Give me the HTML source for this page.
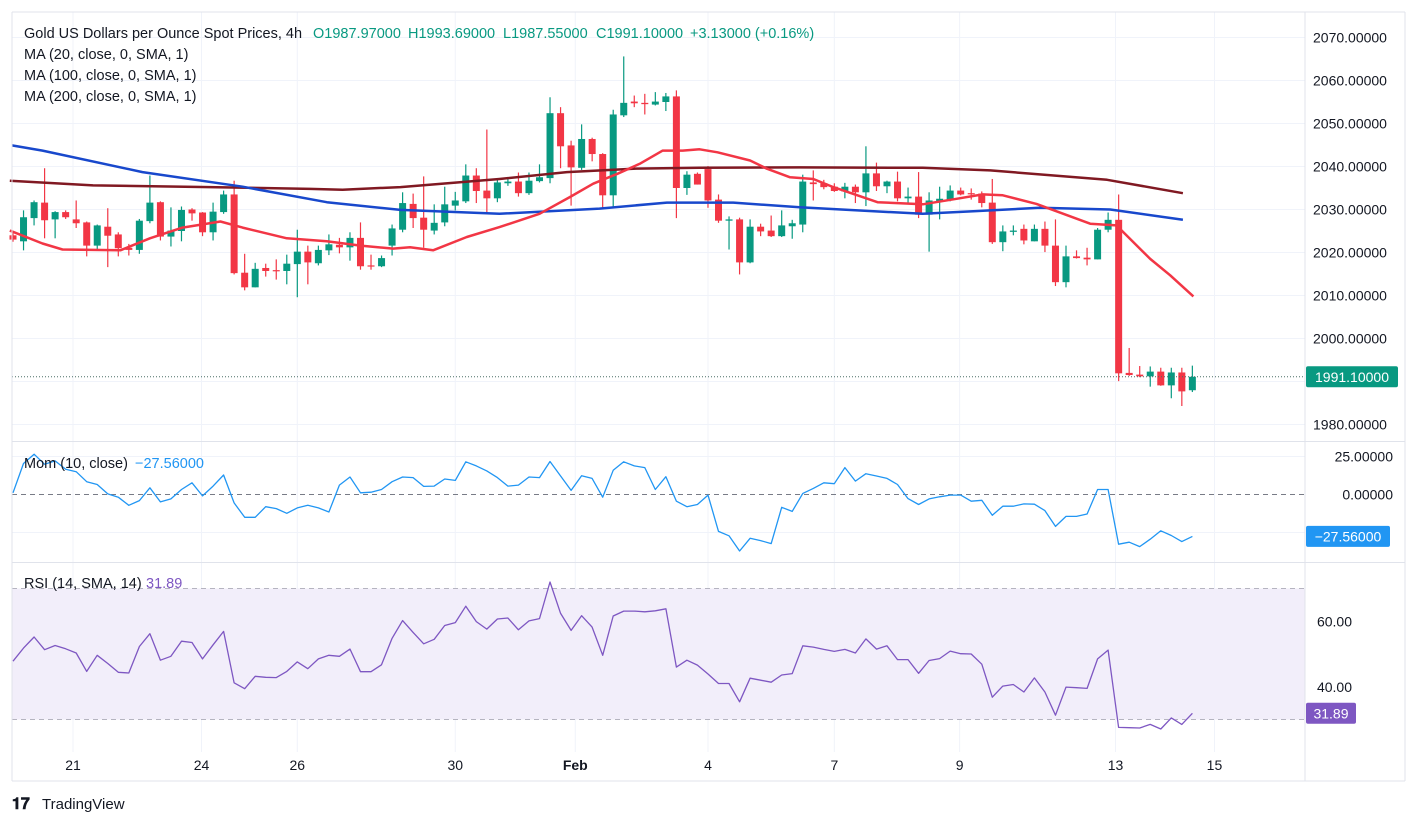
<!DOCTYPE html>
<html><head><meta charset="utf-8"><style>
body{margin:0;background:#fff;font-family:"Liberation Sans",sans-serif;}
svg text{font-family:"Liberation Sans",sans-serif;}
</style></head><body>
<svg id="chart" width="1417" height="825" xmlns="http://www.w3.org/2000/svg">
<rect x="0" y="0" width="1417" height="825" fill="#fff"/>
<g id="grid"></g>
<g id="price-pane"></g>
<g id="mom-pane"></g>
<g id="rsi-pane"></g>
<g id="axes"></g>
<g font-size="14.5">
<text y="38" fill="#131722"><tspan x="24">Gold US Dollars per Ounce Spot Prices, 4h</tspan><tspan x="313" fill="#089981">O1987.97000</tspan><tspan x="408" fill="#089981">H1993.69000</tspan><tspan x="503" fill="#089981">L1987.55000</tspan><tspan x="596" fill="#089981">C1991.10000</tspan><tspan x="690" fill="#089981">+3.13000 (+0.16%)</tspan></text>
<text x="24" y="59" fill="#131722">MA (20, close, 0, SMA, 1)</text>
<text x="24" y="80" fill="#131722">MA (100, close, 0, SMA, 1)</text>
<text x="24" y="101" fill="#131722">MA (200, close, 0, SMA, 1)</text>
<text y="468" fill="#131722"><tspan x="24">Mom (10, close)</tspan><tspan x="135" fill="#2196f3">−27.56000</tspan></text>
<text y="588" fill="#131722"><tspan x="24">RSI (14, SMA, 14)</tspan><tspan x="146" fill="#7e57c2">31.89</tspan></text>
</g>
<g>
<text x="12" y="809" font-size="16" font-weight="bold" fill="#131722">𝟏𝟕</text>
<text x="42" y="809" font-size="15" fill="#131722">TradingView</text>
</g>
</svg>
<script>
const opens=[2024,2022.6,2028,2031.6,2027.7,2029.4,2027.7,2027,2021.6,2026,2024.2,2021.1,2020.6,2027.3,2031.7,2023.7,2025,2030,2029.3,2024.7,2029.4,2033.5,2015.3,2011.9,2016.4,2015.9,2015.7,2017.3,2020.2,2017.5,2020.5,2021.8,2021.2,2023.4,2017,2016.8,2021.6,2025.3,2031.3,2028.1,2025.1,2027,2030.9,2031.9,2037.9,2034.4,2032.6,2036.1,2036.5,2033.8,2036.6,2037.3,2052.4,2044.9,2039.7,2046.4,2042.9,2033.3,2051.9,2055.1,2054.8,2054.4,2055,2056.3,2035,2038.3,2039.4,2032.3,2027.4,2027.7,2017.7,2026,2025.1,2023.8,2026.1,2026.5,2036.3,2036.1,2035.3,2034.2,2035.3,2034,2038.4,2035.4,2036.5,2032.6,2033,2028.8,2031.9,2032.3,2034.4,2033.8,2033.7,2031.6,2022.4,2024.8,2025.5,2022.6,2025.5,2021.6,2013.1,2019.1,2018.8,2018.4,2025.3,2027.6,1992,1991.6,1991.2,1992.3,1989.1,1992.1,1987.97];
const highs=[2024.5,2029.8,2032.1,2039.6,2029.6,2029.8,2032.1,2027.2,2026.5,2030.3,2024.7,2022,2027.8,2037.9,2031.9,2030.5,2030.7,2030.3,2029.4,2031.6,2034.4,2036.7,2019.7,2017.6,2017.4,2018.4,2019.5,2025.3,2021.6,2021.6,2024.2,2023.4,2024.7,2027,2019.5,2019.3,2026.5,2034,2033.7,2037.7,2031.2,2035.3,2034.1,2040.5,2039.6,2048.6,2037.1,2037.4,2038.6,2038.6,2040.5,2056.1,2053.8,2046,2049.8,2046.7,2043.1,2053.2,2065.6,2056.5,2056.9,2057.3,2057.1,2057.7,2038.9,2038.6,2040.1,2033.5,2028.4,2028.1,2027.7,2026.7,2028.6,2029.8,2027.6,2038.1,2039.1,2036.9,2036.1,2036.2,2035.8,2044.7,2040.9,2036.7,2038.8,2035.1,2038.7,2034,2035.3,2035.6,2035.1,2034.9,2034.2,2037.1,2026.3,2026.3,2026.5,2026.5,2027.2,2027.7,2021.6,2020.5,2021.1,2025.7,2029.3,2033.5,1997.8,1993.6,1993.5,1993.2,1993.2,1993.2,1993.69];
const lows=[2022.5,2020.5,2026.3,2023.3,2023.3,2027.8,2025.7,2019.1,2020.6,2016.6,2019.1,2019.3,2019.7,2026.8,2022.8,2021.4,2022.6,2027.4,2023.8,2022.8,2029,2014.9,2011.2,2011.9,2014.4,2013.7,2012.6,2009.6,2012.6,2017,2019.4,2019.8,2018.1,2016,2016,2016.6,2019.3,2024.7,2025.7,2021.1,2024.2,2026.1,2029.8,2031.5,2031.5,2029.1,2031.7,2035.5,2033,2033.4,2036.3,2036.1,2039.6,2030.9,2039.2,2041.2,2030,2030.4,2051.5,2053.8,2052.1,2054.2,2052.9,2028,2033.4,2035.8,2030.4,2026.9,2020.7,2014.9,2017.5,2023.8,2023.6,2023.6,2023.2,2024.7,2032.1,2034.7,2034.1,2032.6,2031.5,2030.8,2034.3,2033.8,2031.9,2031.3,2028,2020.2,2027.7,2031.9,2033.3,2032.3,2030.5,2022,2020.3,2024,2021.9,2022.6,2020.1,2012.2,2011.9,2018.6,2017,2018.4,2024.7,1990.1,1991.3,1991,1988.8,1989,1986.1,1984.3,1987.55];
const closes=[2023,2028.2,2031.7,2027.5,2029.4,2028.2,2026.8,2021.6,2026.3,2023.9,2021,2020.6,2027.4,2031.6,2023.7,2025.1,2029.9,2029.1,2024.7,2029.5,2033.5,2015.2,2011.9,2016.2,2015.7,2015.7,2017.4,2020.2,2017.7,2020.6,2021.9,2021.2,2023.4,2016.8,2016.8,2018.7,2025.6,2031.5,2028,2025.3,2026.9,2031.2,2032.1,2037.9,2034.3,2032.6,2036.3,2036.5,2033.8,2036.7,2037.5,2052.4,2044.7,2039.8,2046.4,2042.9,2033.3,2052.1,2054.8,2054.7,2054.5,2055.1,2056.3,2035,2038.1,2035.8,2032.1,2027.4,2027.7,2017.7,2026,2024.9,2023.8,2026.3,2026.8,2036.5,2035.9,2035.2,2034.3,2035.3,2034,2038.4,2035.4,2036.5,2032.6,2033,2028.8,2032.1,2032.5,2034.4,2033.5,2033.6,2031.5,2022.4,2024.9,2025.1,2022.8,2025.5,2021.6,2013.1,2019.1,2018.7,2018.4,2025.3,2027.6,1991.9,1991.5,1991.2,1992.3,1989.1,1992.1,1987.7,1991.1];
const ma20Idx=[-0.3,2.8,4.7,10.2,13,16.1,19.7,21.8,26,29.8,33,36.1,37.7,39.9,43.1,46.2,50,52.9,55.1,57.4,59.5,61.7,63.6,65.2,66.9,70,71.6,73.8,76,77.9,82.1,86.4,89.6,92.1,94,97.2,102.3,104.8,108,109.9,112.1];
const ma20Val=[2025.1,2022.1,2020.7,2020.5,2023.3,2025.8,2027.2,2025.8,2023.3,2022.6,2021.6,2020.9,2021.2,2020.5,2023.6,2025.9,2029,2032.9,2036,2038.3,2040.6,2043.7,2043.7,2044,2043.3,2041.4,2039.5,2037.5,2037.1,2035.2,2031.7,2031.2,2032.5,2033.5,2033.3,2031.3,2026.7,2026.3,2018.5,2014.7,2009.8];
const ma100Idx=[-0.1,2.8,12.3,21.8,29.8,36.8,46.2,55.7,62.1,68.4,74.7,86.4,91.2,97.5,104.2,111.1];
const ma100Val=[2044.9,2043.7,2038.7,2035.3,2031.7,2029.9,2029,2030.2,2031.6,2031.6,2030.5,2029,2029.6,2030.4,2030,2027.6];
const ma200Idx=[-0.3,7.6,18.7,28.2,31.3,36.8,46.2,52.6,58.9,65.2,74.7,86.4,92.8,103.9,111.1];
const ma200Val=[2036.7,2035.6,2035.2,2034.8,2034.6,2035.2,2037.1,2038.7,2039.5,2039.7,2039.8,2039.7,2039.1,2036.9,2033.8];
const momVals=[1.1,20.4,26.5,19.9,22.1,16.6,15,8.4,6.6,0.4,-1.8,-7.1,-4,4.4,-4.9,-2.9,3.3,7.7,-0.9,5.5,12.8,-5.5,-15,-15,-8,-9.3,-12.4,-8.8,-7.1,-8.8,-11.5,6.2,11.5,1.1,1.5,3.3,8.4,11.5,11.1,5.3,5.5,10.2,9.3,21.5,18.8,15.5,11.1,5.5,6.2,11.5,11.1,21.7,12.2,2.7,12.4,10.6,-1.8,15.9,21.5,18.8,17.7,3.3,11.7,-4.4,-8,-6.6,-0.4,-24.3,-27.2,-37.2,-28.8,-30.3,-32.3,-8.4,-11.1,0.7,4,7.7,7.1,17.7,8.8,13.7,12.2,10.6,6.6,-2.7,-6.6,-2.9,-1.5,-0.4,-0.4,-4.4,-3.8,-13.7,-7.7,-7.7,-6.2,-6.4,-10.6,-21,-14.4,-14.4,-12.8,3.3,3.3,-32.7,-31.4,-34.3,-29.4,-23.9,-27,-31,-27.56];
const rsiVals=[47.8,51.8,55.2,51.3,52.6,51.6,50.3,44.7,49.6,47.1,44.4,44.2,52.3,56.2,48.1,49.3,53.9,53.5,48.5,52.8,56.9,41.2,39.4,43.2,42.9,42.8,44.7,47.6,45.5,48.5,49.6,49.3,51.5,44.6,44.6,46.7,54.8,60.2,56.6,53.1,54.5,58.7,59.6,64.6,59.9,57.6,60.7,61,57.4,60.1,60.8,72,62.4,57.2,61.7,58.2,49.6,61.6,63.1,63.1,62.9,63.2,63.8,46,48.1,46.6,43.9,41,41,35.4,42.6,42,41.4,43.6,44,52.5,52.1,51.4,50.8,51.4,50.3,54.6,51.5,52.5,48.3,48.3,44.1,48,48.6,50.9,50.1,50,46.9,36.8,40.2,40.7,38.4,42.7,38.4,31.3,39.9,39.7,39.5,48.5,51.2,27.6,27.5,27.4,28.5,27.1,30.5,28.5,31.89];
const priceTicks=[1980,1990,2000,2010,2020,2030,2040,2050,2060,2070];
const priceTickLabels=["1980.00000","","2000.00000","2010.00000","2020.00000","2030.00000","2040.00000","2050.00000","2060.00000","2070.00000"];
const momTicks=[25,0,-25];
const momTickLabels=["25.00000","0.00000",""];
const rsiTicks=[60,40];
const rsiTickLabels=["60.00","40.00"];
const timeLabelIdx=[5.7,17.9,27,42,53.4,66,78,89.9,104.7,114.1];
const timeLabels=["21","24","26","30","Feb","4","7","9","13","15"];

const NS="http://www.w3.org/2000/svg";
const PLOT_L=12,PLOT_R=1305;
const xS=i=>13+i*10.53;
const yP=p=>37.5+(2070-p)*4.3;
const yM=m=>494.5-m*1.52;
const yR=r=>654-(r-50)*3.275;
function mk(tag,attrs,parent){const e=document.createElementNS(NS,tag);for(const k in attrs)e.setAttribute(k,attrs[k]);parent.appendChild(e);return e;}
const grid=document.getElementById('grid'),pp=document.getElementById('price-pane'),mp=document.getElementById('mom-pane'),rp=document.getElementById('rsi-pane'),ax=document.getElementById('axes');

let band=mk('rect',{x:PLOT_L,y:yR(70),width:PLOT_R-PLOT_L,height:yR(30)-yR(70),fill:'#f2eefa'},rp);



timeLabelIdx.forEach((ix,k)=>{
  const l=mk('line',{x1:xS(ix),x2:xS(ix),y1:12,y2:752,stroke:'#f0f3fa','stroke-width':1},grid);
  
  
  const t=mk('text',{x:xS(ix),y:770,'text-anchor':'middle','font-size':14,fill:'#131722','font-weight':timeLabels[k]==='Feb'?'bold':'normal'},ax);
  t.textContent=timeLabels[k];
  
  
});
priceTicks.forEach((p,k)=>{
  const l=mk('line',{x1:PLOT_L,x2:PLOT_R,y1:yP(p),y2:yP(p),stroke:'#f0f3fa'},grid);
  
  
  if(priceTickLabels[k]){const t=mk('text',{x:1313,y:yP(p)+5,'font-size':14,fill:'#131722'},ax);t.textContent=priceTickLabels[k];
  
  }
});
momTicks.forEach((m,k)=>{
  const l=mk('line',{x1:PLOT_L,x2:PLOT_R,y1:yM(m),y2:yM(m),stroke:m===0?'#787b86':'#f0f3fa','stroke-dasharray':m===0?'5,4':'none'},grid);
  
  
  if(momTickLabels[k]){const t=mk('text',{x:1393,y:yM(m)+5,'font-size':14,fill:'#131722','text-anchor':'end'},ax);t.textContent=momTickLabels[k];
  
  }
});
[70,60,50,40,30].forEach(r=>{
  const dashed=(r%20===10);
  const l=mk('line',{x1:PLOT_L,x2:PLOT_R,y1:yR(r),y2:yR(r),stroke:dashed?'#787b86':'#e6e2f2','stroke-dasharray':dashed?'5,4':'none'},grid);
  
  
});
rsiTicks.forEach((r,k)=>{const t=mk('text',{x:1352,y:yR(r)+5,'font-size':14,fill:'#131722','text-anchor':'end'},ax);t.textContent=rsiTickLabels[k];
  
  });

[[PLOT_L,12,1405,12],[PLOT_L,441.5,1405,441.5],[PLOT_L,562.5,1405,562.5],[PLOT_L,781,1405,781],[PLOT_L,12,PLOT_L,781],[PLOT_R,12,PLOT_R,781],[1405,12,1405,781]].forEach(s=>{
  const l=mk('line',{x1:s[0],y1:s[1],x2:s[2],y2:s[3],stroke:'#e0e3eb'},ax);
  
  
});

for(let i=0;i<closes.length;i++){
  const up=closes[i]>=opens[i],col=up?'#089981':'#f23645',x=xS(i);
  const g=mk('g',{},pp);
  
  
  mk('line',{x1:x,x2:x,y1:yP(highs[i]),y2:yP(lows[i]),stroke:col,'stroke-width':1.2},g);
  const t=yP(Math.max(opens[i],closes[i])),b=yP(Math.min(opens[i],closes[i]));
  mk('rect',{x:x-3.5,y:t,width:7,height:Math.max(1.2,b-t),fill:col},g);
}
function line(idx,vals,yf,col,w,parent,name){
  const d=vals.map((v,k)=>(k?'L':'M')+xS(idx?idx[k]:k).toFixed(1)+','+yf(v).toFixed(1)).join('');
  const p=mk('path',{d:d,fill:'none',stroke:col,'stroke-width':w,'stroke-linejoin':'round'},parent);
  
  
}
line(ma200Idx,ma200Val,yP,'#801922',2.5,pp,'ma200-line');
line(ma100Idx,ma100Val,yP,'#1848cc',2.5,pp,'ma100-line');
line(ma20Idx,ma20Val,yP,'#f23645',2.5,pp,'ma20-line');
line(null,momVals,yM,'#2196f3',1.3,mp,'momentum-line');
line(null,rsiVals,yR,'#7e57c2',1.3,rp,'rsi-line');

const lp=closes[closes.length-1];
const pl=mk('line',{x1:PLOT_L,x2:PLOT_R,y1:yP(lp),y2:yP(lp),stroke:'#4a6e66','stroke-dasharray':'1,2'},pp);


function badge(y,txt,col,w,name){
  const g=mk('g',{},ax);
  
  
  mk('rect',{x:1306,y:y-10.5,width:w,height:21,fill:col,rx:2},g);
  const t=mk('text',{x:1306+w/2,y:y+5,'font-size':14,fill:'#fff','text-anchor':'middle'},g);t.textContent=txt;
}
badge(yP(lp),lp.toFixed(5),'#089981',92,'last-price-badge');
const lm=momVals[momVals.length-1];
badge(yM(lm),'−'+Math.abs(lm).toFixed(5),'#2196f3',84,'momentum-value-badge');
const lr=rsiVals[rsiVals.length-1];
badge(yR(lr),lr.toFixed(2),'#7e57c2',50,'rsi-value-badge');
</script>
</body></html>
